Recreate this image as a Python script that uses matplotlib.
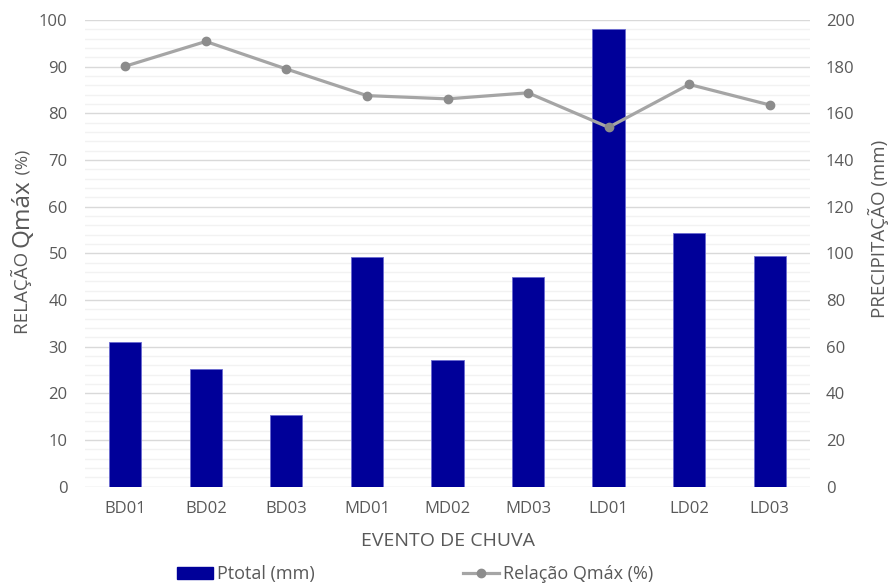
import matplotlib
matplotlib.use("Agg")
import matplotlib.pyplot as plt
from matplotlib.ticker import MultipleLocator
from matplotlib.patches import Patch
from matplotlib.lines import Line2D

# Data
eventos = ["BD01", "BD02", "BD03", "MD01", "MD02", "MD03", "LD01", "LD02", "LD03"]
ptotal_mm = [62.2, 50.4, 30.6, 98.4, 54.5, 89.8, 196.0, 108.6, 98.7]
relacao_qmax = [90.1, 95.4, 89.5, 83.8, 83.1, 84.4, 77.0, 86.2, 81.8]

BAR_COLOR = "#000099"
LINE_COLOR = "#A5A5A5"
MARKER_COLOR = "#8C8C8C"
TEXT_COLOR = "#595959"

plt.rcParams["font.family"] = ["Open Sans", "DejaVu Sans"]

fig = plt.figure(figsize=(8.88, 5.83), dpi=100)
ax = fig.add_axes([85 / 888, 1 - 486.7 / 583, 725 / 888, 466.7 / 583])
ax2 = ax.twinx()

# precipitation bars on the secondary (right) axis, drawn underneath
x = list(range(len(eventos)))
ax2.bar(x, ptotal_mm, width=0.4, color=BAR_COLOR, edgecolor="#6a6ad0",
        linewidth=0.6, zorder=3)
ax2.set_ylim(0, 200)
ax2.yaxis.set_major_locator(MultipleLocator(20))
ax2.yaxis.set_minor_locator(MultipleLocator(4))
ax2.grid(which="major", axis="y", color="#D9D9D9", linewidth=1.0, zorder=0)
ax2.grid(which="minor", axis="y", color="#F2F2F2", linewidth=1.0, zorder=0)
ax2.set_axisbelow(True)

# ratio line on the primary (left) axis, above the bars
ax.set_zorder(ax2.get_zorder() + 1)
ax.patch.set_visible(False)
ax.plot(x, relacao_qmax, color=LINE_COLOR, linewidth=2.3, marker="o",
        markersize=6, markerfacecolor=MARKER_COLOR, markeredgecolor=MARKER_COLOR,
        zorder=5, solid_capstyle="round")
ax.set_ylim(0, 100)
ax.set_xlim(-0.5, len(eventos) - 0.5)
ax.yaxis.set_major_locator(MultipleLocator(10))
ax.set_xticks(x)
ax.set_xticklabels(eventos)

for a in (ax, ax2):
    for s in a.spines.values():
        s.set_visible(False)
    a.tick_params(axis="both", which="both", length=0, labelsize=12,
                  labelcolor=TEXT_COLOR)
ax.tick_params(axis="y", pad=12.5)
ax.tick_params(axis="x", pad=10.5)
ax2.tick_params(axis="y", pad=11.5)

# axis titles
fig.text(448 / 888, 1 - 541 / 583, "EVENTO DE CHUVA", ha="center", va="center",
         fontsize=14, color=TEXT_COLOR)
fig.text(878 / 888, 1 - 229 / 583, "PRECIPITAÇÃO (mm)", ha="center", va="center",
         rotation=90, fontsize=13.5, color=TEXT_COLOR)

# left title with an enlarged "Qmáx", built piece by piece along the baseline
fig.canvas.draw()
renderer = fig.canvas.get_renderer()
pieces = [("RELAÇÃO ", 13.5), ("Qmáx", 17.5), (" (%)", 12.5)]
base_x = 28 / 888
y_px = 583 - 334
for txt, size in pieces:
    t = fig.text(base_x, y_px / 583, txt, rotation=90, rotation_mode="anchor",
                 ha="left", va="baseline", fontsize=size, color=TEXT_COLOR)
    bb = t.get_window_extent(renderer)
    y_px += bb.height

# legend
handles = [
    Patch(facecolor=BAR_COLOR, edgecolor=BAR_COLOR),
    Line2D([0], [0], color=LINE_COLOR, linewidth=2.3, marker="o", markersize=6,
           markerfacecolor=MARKER_COLOR, markeredgecolor=MARKER_COLOR),
]
fig.legend(handles, ["Ptotal (mm)", "Relação Qmáx (%)"], loc="center",
           bbox_to_anchor=(415 / 888, 1 - 574 / 583), ncol=2, frameon=False,
           fontsize=13, labelcolor=TEXT_COLOR, handlelength=2.0,
           handleheight=0.65, handletextpad=0.2, columnspacing=8.2,
           borderpad=0.0)

fig.savefig("out.png", dpi=100, facecolor="white")
